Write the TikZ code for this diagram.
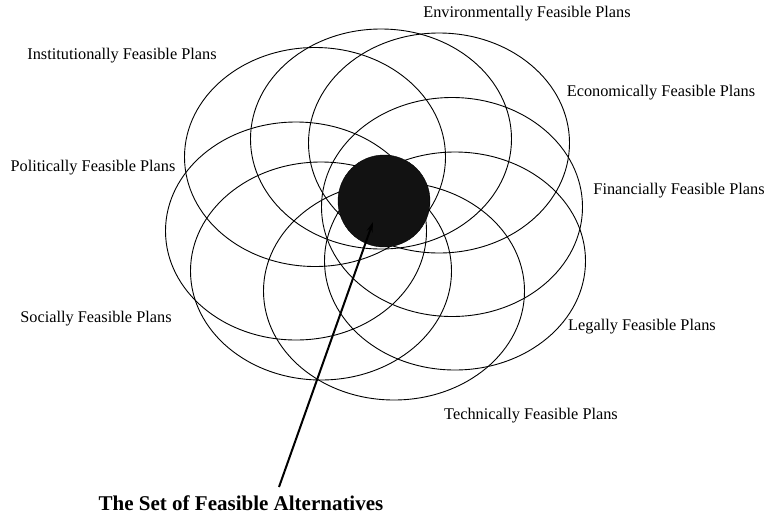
\documentclass[tikz,border=0pt]{standalone}
\usepackage{fontspec}
\setmainfont{Liberation Serif}
\usetikzlibrary{arrows.meta}

\begin{document}
\begin{tikzpicture}[x=1pt, y=-1pt, every node/.style = {font=\fontsize{16.3}{18}\selectfont, inner sep=0pt}]
	\tikzstyle{plan}=[line width=0.9pt]
	\useasboundingbox (0,0) rectangle (768,520);
	% the eight sets of plans
	\draw[plan] (315,157) ellipse (130.5 and 109.5);
	\draw[plan] (381,139) ellipse (130.5 and 110);
	\draw[plan] (439,143) ellipse (130.5 and 110);
	\draw[plan] (452,207) ellipse (130.5 and 109.5);
	\draw[plan] (455,261) ellipse (130.5 and 109);
	\draw[plan] (394,291) ellipse (130.5 and 109);
	\draw[plan] (321,271) ellipse (130.5 and 109);
	\draw[plan] (296,231) ellipse (130.5 and 109);
	% where they all meet
	\node[circle, draw, fill=black!93, minimum size=92pt] (core) at (384,201) {};
	\node (inst) at (122,56) {Institutionally Feasible Plans};
	\node (env) at (527,14) {Environmentally Feasible Plans};
	\node (econ) at (661,93) {Economically Feasible Plans};
	\node (fin) at (679,191) {Financially Feasible Plans};
	\node (legal) at (642,327) {Legally Feasible Plans};
	\node (tech) at (531,416) {Technically Feasible Plans};
	\node (social) at (96,319) {Socially Feasible Plans};
	\node (pol) at (93,168) {Politically Feasible Plans};
	\node[font=\fontsize{21}{24}\selectfont\bfseries] (alt) at (241,503) {The Set of Feasible Alternatives};
	\coordinate (tail) at (279,487);
	\path (core) ++(-11,21) coordinate (tip);
	\draw[line width=2pt, -{Stealth[length=10pt, width=6pt]}] (tail) -- (tip);
\end{tikzpicture}
\end{document}
